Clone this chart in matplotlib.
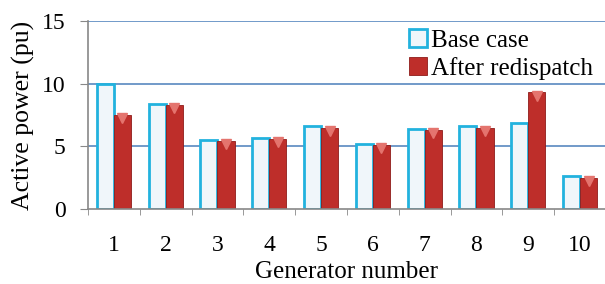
import numpy as np
import matplotlib

matplotlib.use("Agg")
import matplotlib.pyplot as plt

plt.rcParams["font.family"] = ["Liberation Serif", "DejaVu Serif"]

generators = [1, 2, 3, 4, 5, 6, 7, 8, 9, 10]
base_case = [10.0, 8.4, 5.5, 5.7, 6.6, 5.2, 6.4, 6.6, 6.9, 2.6]
after_redispatch = [7.5, 8.3, 5.4, 5.6, 6.5, 5.1, 6.3, 6.5, 9.3, 2.5]

x = np.arange(len(generators)) + 1
w = 0.33

fig = plt.figure(figsize=(6.05, 2.84), dpi=100)
ax = fig.add_axes([0.1455, 0.264, 0.856, 0.662])

for y in (5, 10, 15):
    ax.axhline(y, color="#4A7EBB", lw=1.1, zorder=0)

ax.bar(x - w / 2, base_case, width=w, color="#F0F6FA", edgecolor="#22B2DE",
       linewidth=2.0, label="Base case", zorder=2)
ax.bar(x + w / 2, after_redispatch, width=w, color="#BE2E2A", edgecolor="#8E1C1A",
       linewidth=0.6, label="After redispatch", zorder=2)
# light bevel on top of the red bars
ax.plot(x + w / 2, np.array(after_redispatch) - 0.25, ls="none", marker="v",
        ms=7, color="#E4746E", zorder=3)

ax.set_xlim(0.5, 10.5)
ax.set_ylim(0, 15)
ax.set_yticks([0, 5, 10, 15])
ax.set_xticks(x)
ax.set_xticklabels([str(g) for g in generators])
ax.set_xticks(np.arange(0.5, 11, 1), minor=True)
ax.tick_params(axis="x", which="major", length=0, pad=19, labelsize=17)
ax.tick_params(axis="x", which="minor", length=4.5, color="#888888")
ax.tick_params(axis="y", length=6, color="#888888", labelsize=17, pad=10)

for s in ("top", "right"):
    ax.spines[s].set_visible(False)
for s in ("left", "bottom"):
    ax.spines[s].set_color("#888888")
    ax.spines[s].set_linewidth(1.2)

ax.set_xlabel("Generator number", fontsize=18, labelpad=3)
ax.set_ylabel("Active power (pu)", fontsize=18.5, labelpad=5)

ax.legend(loc="upper right", bbox_to_anchor=(0.985, 0.985), frameon=False, fontsize=18,
          handlelength=0.75, handleheight=0.75, handletextpad=0.15, labelspacing=0.2,
          borderpad=0.1, borderaxespad=0.1)

fig.savefig("out.png", dpi=100)
